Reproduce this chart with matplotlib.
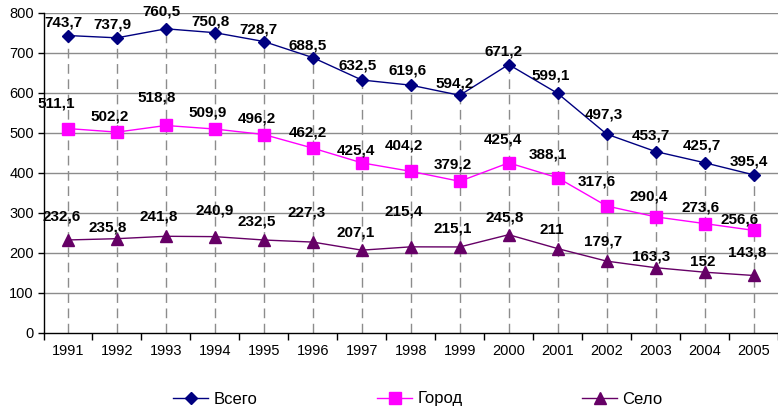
import matplotlib
matplotlib.use("Agg")
import matplotlib.pyplot as plt
from matplotlib.lines import Line2D

plt.rcParams['font.family'] = ['Liberation Sans', 'DejaVu Sans']

years = ['1991', '1992', '1993', '1994', '1995', '1996', '1997', '1998',
         '1999', '2000', '2001', '2002', '2003', '2004', '2005']
vsego = [743.7, 737.9, 760.5, 750.8, 728.7, 688.5, 632.5, 619.6,
         594.2, 671.2, 599.1, 497.3, 453.7, 425.7, 395.4]
gorod = [511.1, 502.2, 518.8, 509.9, 496.2, 462.2, 425.4, 404.2,
         379.2, 425.4, 388.1, 317.6, 290.4, 273.6, 256.6]
selo = [232.6, 235.8, 241.8, 240.9, 232.5, 227.3, 207.1, 215.4,
        215.1, 245.8, 211, 179.7, 163.3, 152, 143.8]
series_names = ['Всего', 'Город', 'Село']

# label offsets (pixels) relative to each point
off_vsego = [(-5, 13), (-5, 13), (-4, 17), (-4, 11), (-5, 12), (-5, 12), (-4, 15), (-3, 15),
             (-5, 12), (-5, 13), (-7, 18), (-3, 20), (-5, 16), (-3, 17), (-5, 13)]
off_gorod = [(-12, 25), (-7, 16), (-9, 28), (-7, 17), (-7, 16), (-5, 16), (-6, 12), (-7, 26),
             (-7, 17), (-6, 23), (-10, 23), (-10, 24), (-7, 20), (-4, 16), (-14, 11)]
off_selo = [(-6, 23), (-9, 11), (-7, 20), (0, 26), (-7, 19), (-6, 30), (-6, 18), (-7, 35),
            (-7, 18), (-4, 17), (-6, 19), (-4, 20), (-4, 11), (-2, 10), (-6, 23)]

W, H = 778, 412
fig = plt.figure(figsize=(W / 100, H / 100), dpi=100)
left_px, right_px, top_px, bot_px = 43.5, 778, 13, 333
ax = fig.add_axes([left_px / W, 1 - bot_px / H, (right_px - left_px) / W, (bot_px - top_px) / H])

x = list(range(len(years)))
unit = 49.36
ax.set_xlim(-0.5, -0.5 + (right_px - left_px) / unit)
ax.set_ylim(0, 800)

grid_c = '#8c8c8c'
for yv in range(100, 801, 100):
    ax.axhline(yv, color=grid_c, lw=1.0, zorder=0)

ax.vlines(x, 0, vsego, colors='#8c8c8c', linestyles=(0, (7, 4)), lw=1.0, zorder=1)

styles = [
    (vsego, '#000080', 'D', 6.3, off_vsego),
    (gorod, '#FF00FF', 's', 8.0, off_gorod),
    (selo, '#660066', '^', 8.5, off_selo),
]
handles = []
for (vals, col, mk, ms, offs), name in zip(styles, series_names):
    ax.plot(x, vals, color=col, marker=mk, markersize=ms, lw=1.0,
            markeredgecolor=col, zorder=3, clip_on=False)
    handles.append(Line2D([], [], color=col, marker=mk, markersize=ms, lw=1.0,
                          markeredgecolor=col))
    for xi, v, (dx, dy) in zip(x, vals, offs):
        lab = f"{v:g}".replace('.', ',')
        ax.annotate(lab, (xi, v), xytext=(dx, dy), textcoords='offset pixels',
                    ha='center', va='center', fontsize=11, fontweight='bold',
                    color='black', zorder=4, annotation_clip=False)

ax.set_yticks(range(0, 801, 100))
ax.tick_params(axis='y', direction='out', length=4, width=1, labelsize=10.5, pad=3)
ax.set_xticks(x)
ax.set_xticklabels(years)
ax.tick_params(axis='x', which='major', length=0, labelsize=10.5, pad=8)
ax.set_xticks([i - 0.5 for i in range(len(years) + 1)], minor=True)
ax.tick_params(axis='x', which='minor', direction='out', length=5, width=1)

for s in ['top', 'right']:
    ax.spines[s].set_visible(False)
for s in ['left', 'bottom']:
    ax.spines[s].set_color('black')
    ax.spines[s].set_linewidth(1.0)

fig.legend(handles, series_names, loc='center', ncol=3,
           bbox_to_anchor=(418 / W, 1 - 399 / H), frameon=False,
           fontsize=12, handlelength=2.1, handletextpad=0.3, columnspacing=7.2)

fig.savefig('out.png', dpi=100)
